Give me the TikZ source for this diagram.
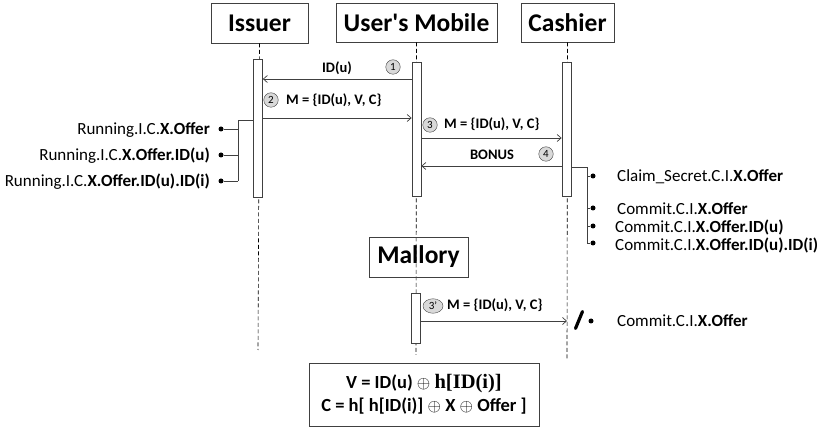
\documentclass[tikz,border=0pt]{standalone}
\usepackage{fontspec}
\setmainfont{Carlito}
\newfontfamily\carl{Carlito}
\newfontfamily\serifb{Liberation Serif}
\usetikzlibrary{arrows.meta,shapes.geometric}
\definecolor{lgray}{HTML}{D9D9D9}
\definecolor{lnc}{HTML}{404040}
\begin{document}
\begin{tikzpicture}[x=1pt,y=-1pt,
  actor/.style={draw=lnc,line width=0.8pt,fill=white,inner sep=0pt,font=\fontsize{25.5}{28}\selectfont\bfseries},
  bar/.style={draw=lnc,line width=0.7pt,fill=white,minimum width=9pt,inner sep=0pt,anchor=north},
  life/.style={line width=0.6pt,dash pattern=on 4pt off 2.5pt,draw=black},
  msg/.style={draw=lnc,line width=0.7pt,-{Straight Barb[length=4pt,width=7pt]}},
  lbl/.style={font=\fontsize{14.5}{16}\selectfont\bfseries,inner sep=0pt},
  num/.style={circle,draw=lnc,fill=lgray,minimum size=14.5pt,inner sep=0pt,font=\fontsize{11}{12}\selectfont},
  dot/.style={circle,fill=black,minimum size=5pt,inner sep=0pt},
  ev/.style={font=\fontsize{17}{19}\selectfont,inner sep=0pt},
  br/.style={draw=lnc,line width=0.7pt}]
\useasboundingbox (0,0) rectangle (828,430);

% actors
\node[actor,minimum width=97pt,minimum height=40pt] (issuer) at (259.5,23) {Issuer};
\node[actor,minimum width=161pt,minimum height=39pt] (mobile) at (416.5,22.5) {User{\carl\bfseries '}s Mobile};
\node[actor,minimum width=93pt,minimum height=39pt] (cashier) at (567.5,22.5) {Cashier};

% lifeline ends
\coordinate (iend) at (258,350);
\coordinate (mend) at (416,355);
\coordinate (cend) at (567,359);
\draw[life] (issuer.south) -- (iend);
\draw[life] (mobile.south) -- (mend);
\draw[life] (cashier.south) -- (cend);

% Mallory
\node[actor,fill=none,minimum width=99pt,minimum height=40pt] (mallory) at (418.5,257) {Mallory};

% bars
\node[bar,minimum height=138pt] (ibar) at (258,59) {};
\node[bar,minimum height=134pt] (mbar) at (416.5,62) {};
\node[bar,minimum height=134pt] (cbar) at (566.5,62) {};
\node[bar,minimum height=50pt] (mlbar) at (416,293) {};

% messages
\draw[msg] (mbar.west |- 0,79) -- (ibar.east |- 0,79);
\node[lbl] (l1) at (337,68) {ID(u)};
\node[num] (n1) at (393,67) {1};

\draw[msg] (ibar.east |- 0,118) -- (mbar.west |- 0,118);
\node[num] (n2) at (271,100) {2};
\node[lbl,anchor=west] (l2) at (286,100) {M = \{ID(u), V, C\}};

\draw[msg] (mbar.east |- 0,138) -- (cbar.west |- 0,138);
\node[num] (n3) at (430,125) {3};
\node[lbl,anchor=west] (l3) at (444,124) {M = \{ID(u), V, C\}};

\draw[msg] (cbar.west |- 0,166) -- (mbar.east |- 0,166);
\node[lbl] (l4) at (492,155) {BONUS};
\node[num] (n4) at (546,154) {4};

% Mallory message
\coordinate (blk) at (567,321);
\draw[msg] (mlbar.east |- 0,321) -- (blk);
\node[num,ellipse,minimum width=20pt,minimum height=14.5pt] (n3p) at (433,306) {3'};
\node[lbl,anchor=west] (l3p) at (447,305) {M = \{ID(u), V, C\}};
\coordinate (s1) at (575.5,328.5);
\coordinate (s2) at (582.5,311.5);
\draw[line width=3.2pt,line cap=round] (s1) -- (s2);
\node[dot] (d5) at (591,321) {};
\node[ev,anchor=west] (e5) at (617,321) {Commit.C.I.\textbf{X.Offer}};

% Issuer events
\coordinate (ib0) at (238,120);
\coordinate (ib3) at (238,181);
\draw[br] (ibar.west |- ib0) -- (ib0) -- (ib3);
\node[dot] (id1) at (221,129) {};
\node[dot] (id2) at (221,155) {};
\node[dot] (id3) at (221,181) {};
\draw[br] (id1) -- (id1 -| ib0);
\draw[br] (id2) -- (id2 -| ib0);
\draw[br] (id3) -- (ib3);
\node[ev,anchor=east] (ie1) at (210,130) {Running.I.C.\textbf{X.Offer}};
\node[ev,anchor=east] (ie2) at (210,156) {Running.I.C.\textbf{X.Offer.ID(u)}};
\node[ev,anchor=east] (ie3) at (210,182) {Running.I.C.\textbf{X.Offer.ID(u).ID(i)}};

% Cashier events
\coordinate (cb0) at (587,167);
\coordinate (cb4) at (587,243);
\draw[br] (cbar.east |- cb0) -- (cb0) -- (cb4);
\node[dot] (cd1) at (593,176) {};
\node[dot] (cd2) at (593,208) {};
\node[dot] (cd3) at (593,226) {};
\node[dot] (cd4) at (593,243) {};
\draw[br] (cd1) -- (cd1 -| cb0);
\draw[br] (cd2) -- (cd2 -| cb0);
\draw[br] (cd3) -- (cd3 -| cb0);
\draw[br] (cd4) -- (cb4);
\node[ev,anchor=west] (ce1) at (617,177) {Claim\_Secret.C.I.\textbf{X.Offer}};
\node[ev,anchor=west] (ce2) at (617,209) {Commit.C.I.\textbf{X.Offer}};
\node[ev,anchor=west] (ce3) at (615,227) {Commit.C.I.\textbf{X.Offer.ID(u)}};
\node[ev,anchor=west] (ce4) at (615,245) {Commit.C.I.\textbf{X.Offer.ID(u).ID(i)}};

% formula box
\node[draw=lnc,line width=0.8pt,minimum width=230pt,minimum height=63pt,inner sep=0pt,
  font=\fontsize{18.5}{23}\selectfont\bfseries,align=center] (formula) at (424,394.5)
  {V = ID(u) $\oplus$ {\serifb\fontsize{20.5}{23}\selectfont h[ID(i)]}\\
   C = h[ h[ID(i)] $\oplus$ X $\oplus$ Offer ]};
\end{tikzpicture}
\end{document}
